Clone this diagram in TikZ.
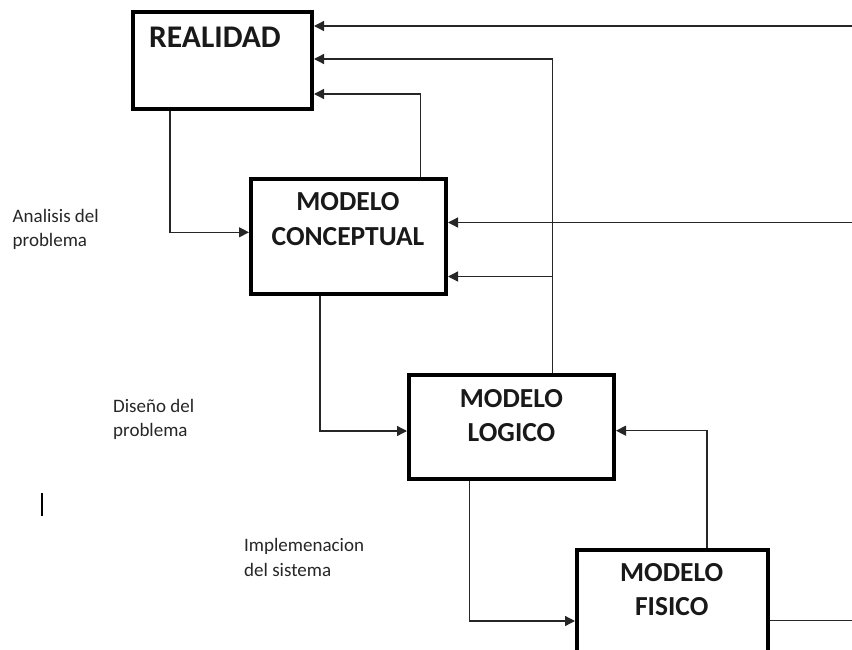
\documentclass[tikz,border=0pt]{standalone}
\usepackage{fontspec}
\setmainfont{Carlito}
\usetikzlibrary{arrows.meta,calc}
\tikzset{
  box/.style={draw=black, line width=4pt, fill=white, inner sep=0pt},
  boxtxt/.style={font=\fontsize{27.5}{32}\selectfont\bfseries, inner sep=0pt, text=black!90},
  lbl/.style={font=\fontsize{19}{23}\selectfont, inner sep=0pt, anchor=base west, text=black!85},
  conn/.style={draw=black!85, line width=1.3pt},
  arr/.style={conn, -{Triangle[length=10pt,width=10pt]}},
}
\begin{document}
\begin{tikzpicture}[x=1pt,y=-1pt]
\useasboundingbox (0,0) rectangle (852,650);
\clip (0,0) rectangle (852,650);
% boxes
\node[box, minimum width=179pt, minimum height=97pt] (real) at (222.5,60.5) {};
\node[box, minimum width=195pt, minimum height=115pt] (concept) at (348.5,236.5) {};
\node[box, minimum width=205pt, minimum height=104.5pt] (logico) at (511.5,426.75) {};
\node[box, minimum width=190.5pt, minimum height=110pt] (fisico) at (672.25,604.5) {};
% box texts
\node[boxtxt, font=\fontsize{31.5}{36}\selectfont\bfseries] (treal) at (215,37.5) {REALIDAD};
\node[boxtxt] (tc1) at (348,202) {MODELO};
\node[boxtxt] (tc2) at (348,237) {CONCEPTUAL};
\node[boxtxt] (tl1) at (511.5,398.3) {MODELO};
\node[boxtxt] (tl2) at (511.5,432.7) {LOGICO};
\node[boxtxt] (tf1) at (671.7,573) {MODELO};
\node[boxtxt] (tf2) at (671.7,607) {FISICO};
% side labels
\node[lbl] (a1) at (12.5,222.3) {Analisis del};
\node[lbl] (a2) at (12.5,246.3) {problema};
\node[lbl] (d1) at (113,412.7) {Diseño del};
\node[lbl] (d2) at (113,436.5) {problema};
\node[lbl] (i1) at (244,551.7) {Implemenacion};
\node[lbl] (i2) at (244,576.5) {del sistema};
% cursor mark
\draw[line width=2pt, black] (42,493) -- (42,516);
% free ends at the right edge
\coordinate (r1) at (852,26);
\coordinate (r2) at (852,222.5);
\coordinate (r3) at (852,620.5);
% connectors
\draw[arr] (real.south -| 170,0) |- (concept.west |- 0,232.3);
\draw[arr] (concept.north -| 420.5,0) |- (real.east |- 0,94);
\draw[arr] (logico.north -| 552.5,0) |- (real.east |- 0,59);
\draw[arr] (logico.north -| 552.5,0) |- (concept.east |- 0,276.5);
\draw[arr] (r1) -- (real.east |- r1);
\draw[arr] (r2) -- (concept.east |- r2);
\draw[arr] (concept.south -| 320,0) |- (logico.west |- 0,431);
\draw[arr] (logico.south -| 469.3,0) |- (fisico.west |- 0,621);
\draw[arr] (fisico.north -| 707,0) |- (logico.east |- 0,430.7);
\draw[conn] (fisico.east |- r3) -- (r3);
\end{tikzpicture}
\end{document}
